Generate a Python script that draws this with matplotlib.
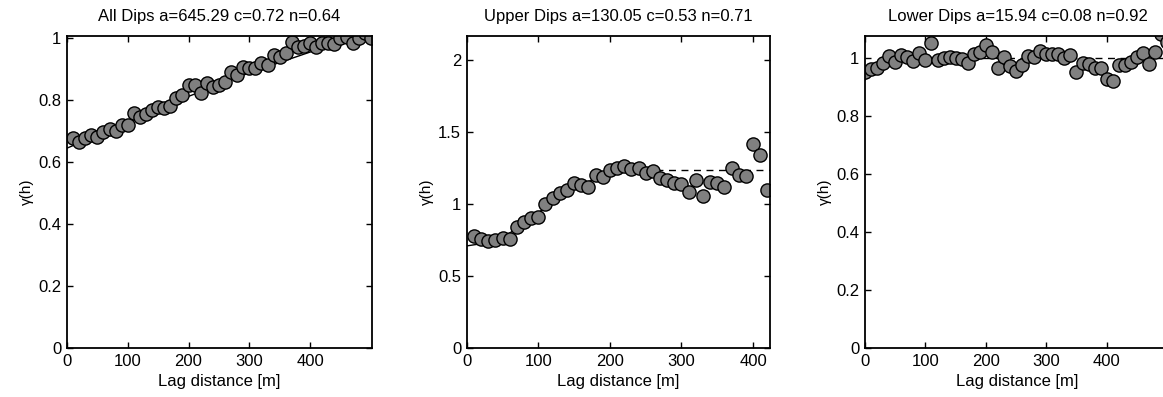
import numpy as np
import matplotlib
matplotlib.use("Agg")
import matplotlib.pyplot as plt

plt.rcParams['font.family'] = ['Liberation Sans', 'DejaVu Sans']

lags_all = np.arange(10, 510, 10)
gamma_all = [0.677, 0.666, 0.677, 0.688, 0.680, 0.698, 0.706, 0.700, 0.720, 0.720,
             0.758, 0.745, 0.755, 0.768, 0.779, 0.775, 0.780, 0.806, 0.817, 0.849,
             0.849, 0.822, 0.855, 0.842, 0.849, 0.860, 0.892, 0.881, 0.908, 0.905,
             0.903, 0.919, 0.914, 0.946, 0.940, 0.951, 0.989, 0.973, 0.975, 0.984,
             0.970, 0.984, 0.984, 0.980, 1.000, 1.005, 0.984, 1.000, 1.016, 1.000]

lags_upper = np.arange(10, 430, 10)
gamma_upper = [0.780, 0.756, 0.745, 0.751, 0.765, 0.760, 0.840, 0.875, 0.903, 0.914,
               1.000, 1.040, 1.078, 1.100, 1.146, 1.134, 1.118, 1.204, 1.190, 1.240,
               1.250, 1.265, 1.243, 1.255, 1.215, 1.234, 1.180, 1.170, 1.150, 1.139,
               1.085, 1.169, 1.058, 1.157, 1.150, 1.123, 1.250, 1.204, 1.197, 1.418,
               1.343, 1.100]

lags_lower = np.arange(0, 510, 10)
gamma_lower = [0.954, 0.962, 0.965, 0.983, 1.008, 0.988, 1.011, 1.006, 0.991, 1.017,
               0.994, 1.052, 0.994, 1.000, 1.003, 1.000, 0.997, 0.983, 1.014, 1.023,
               1.046, 1.023, 0.966, 1.003, 0.974, 0.957, 0.977, 1.008, 1.006, 1.025,
               1.015, 1.015, 1.015, 1.000, 1.011, 0.954, 0.983, 0.980, 0.966, 0.966,
               0.929, 0.920, 0.977, 0.977, 0.988, 1.006, 1.017, 0.979, 1.021, 1.083,
               1.057]

# fitted model curves (solid) and sill (dashed), read approximately
fit_all_x = [0, 100, 200, 300, 400, 500]
fit_all_y = [0.645, 0.728, 0.812, 0.888, 0.955, 1.005]

fit_upper_x = [0, 40, 80, 120, 160, 200, 240, 265]
fit_upper_y = [0.71, 0.74, 0.86, 1.02, 1.14, 1.21, 1.235, 1.24]
sill_upper_x = [265, 425]
sill_upper_y = [1.24, 1.24]

fit_lower_x = [0, 10, 20, 30, 50]
fit_lower_y = [0.925, 0.96, 0.98, 0.99, 1.0]
sill_lower_x = [50, 505]
sill_lower_y = [1.0, 1.0]

titles = ["All Dips a=645.29 c=0.72 n=0.64",
          "Upper Dips a=130.05 c=0.53 n=0.71",
          "Lower Dips a=15.94 c=0.08 n=0.92"]

fig = plt.figure(figsize=(11.63, 3.97), dpi=100)
ax1 = fig.add_axes([0.0576, 0.1234, 0.2623, 0.786])
ax2 = fig.add_axes([0.4013, 0.1234, 0.2610, 0.786])
ax3 = fig.add_axes([0.7438, 0.1234, 0.2623, 0.786])

mk = dict(linestyle='none', marker='o', markersize=9.5, markerfacecolor='#808080',
          markeredgecolor='black', markeredgewidth=1.0, clip_on=True)

ax1.plot(fit_all_x, fit_all_y, color='black', linewidth=1.0)
ax1.plot(lags_all, gamma_all, **mk)
ax1.set_xlim(0, 502)
ax1.set_ylim(0, 1.007)
ax1.set_yticks([0, 0.2, 0.4, 0.6, 0.8, 1])
ax1.set_yticklabels(['0', '0.2', '0.4', '0.6', '0.8', '1'])

ax2.plot(fit_upper_x, fit_upper_y, color='black', linewidth=1.0)
ax2.plot(sill_upper_x, sill_upper_y, color='black', linewidth=1.0, linestyle=(0, (5, 4)))
ax2.plot(lags_upper, gamma_upper, **mk)
ax2.set_xlim(0, 424)
ax2.set_ylim(0, 2.17)
ax2.set_yticks([0, 0.5, 1, 1.5, 2])
ax2.set_yticklabels(['0', '0.5', '1', '1.5', '2'])

ax3.plot(fit_lower_x, fit_lower_y, color='black', linewidth=1.0)
ax3.plot(sill_lower_x, sill_lower_y, color='black', linewidth=1.0, linestyle=(0, (5, 4)))
ax3.plot(lags_lower, gamma_lower, **mk)
ax3.set_xlim(0, 505)
ax3.set_ylim(0, 1.077)
ax3.set_yticks([0, 0.2, 0.4, 0.6, 0.8, 1])
ax3.set_yticklabels(['0', '0.2', '0.4', '0.6', '0.8', '1'])

for ax, t in zip([ax1, ax2, ax3], titles):
    ax.set_xticks([0, 100, 200, 300, 400])
    ax.tick_params(direction='in', top=True, right=True, length=4, width=1.0,
                   labelsize=12, pad=4)
    for s in ax.spines.values():
        s.set_linewidth(1.3)
    ax.set_title(t, fontsize=12, pad=11)
    ax.set_xlabel("Lag distance [m]", fontsize=12, labelpad=4)
    ax.set_ylabel("γ(h)", fontsize=11, labelpad=3)

fig.savefig("out.png", dpi=100)
